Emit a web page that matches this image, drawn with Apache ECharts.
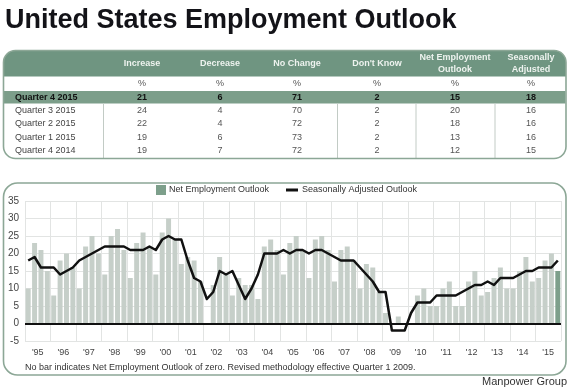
<!DOCTYPE html>
<html><head><meta charset="utf-8">
<script src="https://cdn.jsdelivr.net/npm/echarts@6/dist/echarts.min.js"></script>
<style>html,body{margin:0;padding:0;background:#fff}#main{width:570px;height:392px}</style>
</head><body><div id="main"></div>
<script>
// ---------- data ----------
const years = ["'95","'96","'97","'98","'99","'00","'01","'02","'03","'04","'05","'06","'07","'08","'09","'10","'11","'12","'13","'14","'15"];
const quarterNames = ['Q1','Q2','Q3','Q4'];
const netEmploymentOutlook = [
  10,23,21,15,  8,18,20,16,  10,22,25,20,  14,25,27,21,  13,23,26,22,
  14,26,30,24,  17,19,18,12,  0,11,19,14,  8,13,11,11,  7,22,24,21,
  14,23,25,21,  13,24,25,21,  12,21,22,18,  10,17,16,9,  3,0,2,0,
  0,8,10,5,  5,10,12,5,  5,12,15,8,  9,13,16,10,  10,15,19,12,
  13,18,20,15
];
const seasonallyAdjustedOutlook = [
  18,19,16,16,  16,14,15,16,  18,19,20,21,  22,22,22,22,  21,21,21,22,
  21,24,25,24,  24,18,13,12,  7,9,15,14,  15,11,7,10,  14,20,20,20,
  21,20,21,21,  20,21,21,20,  19,18,18,18,  16,14,12,9,  9,-2,-2,-2,
  3,6,6,6,  8,8,8,8,  9,10,11,11,  12,11,13,13,  13,14,15,15,
  16,16,16,18
];
const yMin = -5, yMax = 35, yStep = 5;

const tableHeaders = ['Increase','Decrease','No Change',"Don't Know",'Net Employment\nOutlook','Seasonally\nAdjusted'];
const tableRowLabels = ['Quarter 4 2015','Quarter 3 2015','Quarter 2 2015','Quarter 1 2015','Quarter 4 2014'];
const colIncrease = [21,24,22,19,19];
const colDecrease = [6,4,4,6,7];
const colNoChange = [71,70,72,73,72];
const colDontKnow = [2,2,2,2,2];
const colNetEmployment = [15,20,18,13,12];
const colSeasonallyAdjusted = [18,16,16,16,15];

const titleText = 'United States Employment Outlook';
const footnoteText = 'No bar indicates Net Employment Outlook of zero. Revised methodology effective Quarter 1 2009.';
const sourceText = 'Manpower Group';

// ---------- build ----------
const quarterLabels = [];
years.forEach(y => quarterNames.forEach(q => quarterLabels.push(q + ' ' + y)));

const FONT = '"Liberation Sans", Arial, Helvetica, sans-serif';
const GREEN_HEAD = '#6f9581';
const GREEN_ROW = '#7c9e8a';
const BORDER = '#8ca796';
const BAR_LIGHT = '#c6cfc9';
const BAR_DARK = '#7d9f8b';

const g = [];
function txt(x, y, text, size, opts) {
  opts = opts || {};
  g.push({type:'text', x:x, y:y, z: 10, silent:true, style:{
    text:text, fontFamily:FONT, fontSize:size, fontWeight:opts.bold?'bold':'normal',
    fill:opts.color||'#333', align:opts.align||'center', verticalAlign:'middle',
    lineHeight: opts.lineHeight || size*1.2
  }});
}
// title
txt(5, 20.5, titleText, 27, {bold:true, color:'#131318', align:'left'});

// table frame
g.push({type:'rect', silent:true, z:1, shape:{x:3.5,y:50.5,width:562.5,height:26,r:[12,12,0,0]}, style:{fill:GREEN_HEAD}});
g.push({type:'rect', silent:true, z:1, shape:{x:4,y:91,width:561.5,height:12.5}, style:{fill:GREEN_ROW}});
[103.5, 337.5, 416, 495].forEach(x => g.push({type:'line', silent:true, z:2, shape:{x1:x,y1:103.5,x2:x,y2:158}, style:{stroke:'#c2cbc5', lineWidth:1}}));
g.push({type:'rect', silent:true, z:3, shape:{x:3.5,y:50.5,width:562.5,height:108,r:12}, style:{fill:'none', stroke:BORDER, lineWidth:1.6}});

const colCenters = [142, 220, 297, 377, 455, 531];
tableHeaders.forEach((h, j) => txt(colCenters[j], 63.5, h, 9, {bold:true, color:'#eef3ef', lineHeight:12.5}));
tableHeaders.forEach((h, j) => txt(colCenters[j], 83.5, '%', 9, {color:'#555'}));
const cols = [colIncrease, colDecrease, colNoChange, colDontKnow, colNetEmployment, colSeasonallyAdjusted];
const rowY = [97.3, 110.2, 123.7, 137.3, 151];
tableRowLabels.forEach((lab, r) => {
  const bold = r === 0;
  txt(15, rowY[r], lab, 9, {bold:bold, color: bold?'#111':'#444', align:'left'});
  cols.forEach((c, j) => txt(colCenters[j], rowY[r], String(c[r]), 9, {bold:bold, color: bold?'#111':'#555'}));
});

// chart frame
g.push({type:'rect', silent:true, z:0, shape:{x:3.5,y:183,width:562.5,height:192,r:14}, style:{fill:'none', stroke:BORDER, lineWidth:1.6}});
txt(25, 368, footnoteText, 9, {color:'#333', align:'left'});
txt(567, 381.5, sourceText, 11, {color:'#333', align:'right'});

const last = netEmploymentOutlook.length - 1;
const option = {
  animation:false,
  backgroundColor:'#fff',
  textStyle:{fontFamily:FONT},
  grid:{left:25, right:9, top:201, bottom:51, containLabel:false},
  legend:[
    {data:['Net Employment Outlook'], left:156, top:185, padding:0, itemWidth:10, itemHeight:10, icon:'rect', selectedMode:false,
     textStyle:{fontSize:9, color:'#333', fontFamily:FONT, padding:[0,0,0,-2]}},
    {data:[{name:'Seasonally Adjusted Outlook', icon:'rect'}], left:286, top:185, padding:0, itemWidth:12, itemHeight:3, selectedMode:false,
     textStyle:{fontSize:9, color:'#333', fontFamily:FONT, height:10, lineHeight:10, padding:[0,0,0,-1]}}
  ],
  xAxis:[
    {type:'category', data:quarterLabels, show:false},
    {type:'category', data:years, position:'bottom',
     axisLine:{show:false}, axisTick:{show:false},
     axisLabel:{interval:0, color:'#444', fontSize:9, margin:7, fontFamily:FONT},
     splitLine:{show:true, interval:0, lineStyle:{color:'#e2e4e3', width:1}}}
  ],
  yAxis:{type:'value', min:yMin, max:yMax, interval:yStep,
    axisLine:{show:false}, axisTick:{show:false},
    axisLabel:{color:'#444', fontSize:10, margin:6, fontFamily:FONT},
    splitLine:{lineStyle:{color:'#e2e4e3', width:1}}},
  series:[
    {name:'Net Employment Outlook', type:'bar', xAxisIndex:0, barCategoryGap:'22%',
     itemStyle:{color:BAR_DARK},
     data: netEmploymentOutlook.map((v,i) => i === last ? {value:v} : {value:v, itemStyle:{color:BAR_LIGHT}}),
     markLine:{silent:true, symbol:'none', label:{show:false}, animation:false,
       lineStyle:{color:'#111', width:2, type:'solid'}, data:[{yAxis:0}]}},
    {name:'Seasonally Adjusted Outlook', type:'line', xAxisIndex:0, symbol:'none', z:4,
     itemStyle:{color:'#111'}, lineStyle:{color:'#111', width:2.5, join:'round'},
     data: seasonallyAdjustedOutlook}
  ],
  graphic: g
};
const chart = echarts.init(document.getElementById('main'));
chart.setOption(option);
</script></body></html>
